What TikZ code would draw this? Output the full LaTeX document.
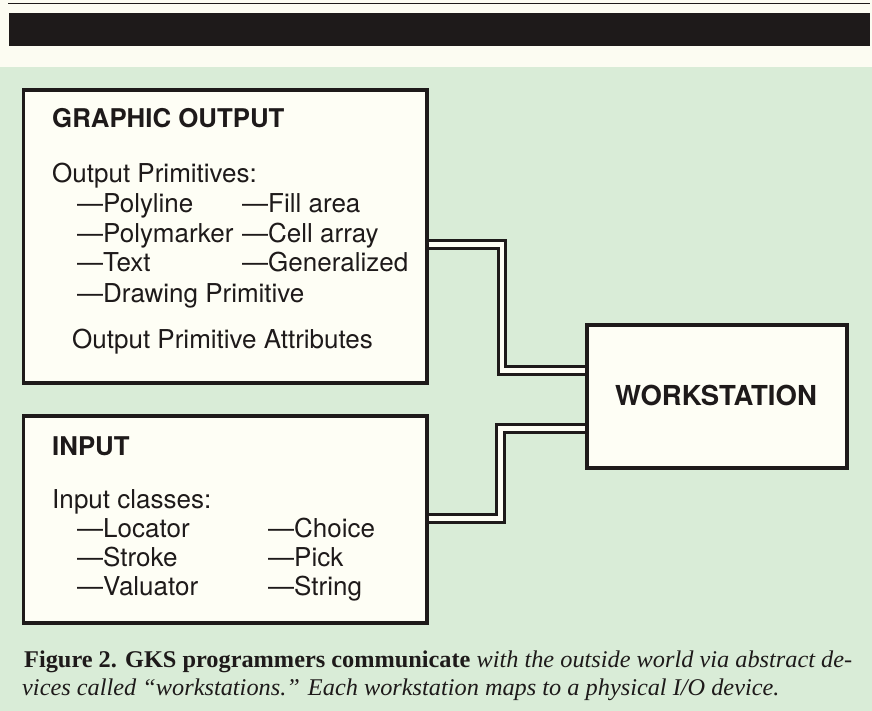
\documentclass[tikz,border=0pt]{standalone}
\usepackage{fontspec}
\usepackage{graphicx}
\newfontfamily\hv{TeX Gyre Heros}
\newfontfamily\capfont{Liberation Serif}
\definecolor{bggreen}{RGB}{217,236,215}
\definecolor{topcream}{RGB}{252,252,242}
\definecolor{cream}{RGB}{254,254,245}
\definecolor{ink}{RGB}{30,26,26}
\newlength\capw
\begin{document}
\settowidth\capw{\fontsize{24}{28}\selectfont\capfont\bfseries Figure 2. GKS programmers communicate \mdseries\itshape with the outside world via abstract de-}
\pgfmathsetmacro\capsx{828pt/\capw}
\begin{tikzpicture}[x=1pt,y=-1pt,
  box/.style={draw=ink, line width=3.2pt, fill=cream, rectangle, inner sep=0pt},
  conn/.style={draw=ink, line width=3pt, double=cream, double distance=4.4pt, line join=miter},
  txt/.style={anchor=base west, inner sep=0pt, text=ink, font=\hv\fontsize{26}{30}\selectfont},
  ttl/.style={txt, font=\hv\bfseries\fontsize{25.8}{30}\selectfont},
  captxt/.style={anchor=base west, inner sep=0pt, text=ink, font=\capfont\fontsize{24}{28}\selectfont}]
\useasboundingbox (0,0) rectangle (872,711);
% background
\fill[topcream] (0,0) rectangle (872,711);
\fill[bggreen] (0,67) rectangle (872,711);
\draw[ink, line width=1.6pt] (8,3.5) -- (870,3.5);
\fill[ink] (9,13) rectangle (870,46);

% boxes
\node[box, minimum width=403.5pt, minimum height=293pt] (go) at (225.25,236.5) {};
\node[box, minimum width=403.5pt, minimum height=207pt] (in) at (225.25,519.5) {};
\node[box, minimum width=260pt, minimum height=143pt] (ws) at (717,396.5) {};

% graphic output texts
\node[ttl] (goT) at (52,128) {GRAPHIC OUTPUT};
\node[txt] (goP) at (52,183) {Output Primitives:};
\node[txt] (g1) at (77,213) {—Polyline};
\node[txt] (g2) at (242,213) {—Fill area};
\node[txt] (g3) at (77,243) {—Polymarker};
\node[txt] (g4) at (242,243) {—Cell array};
\node[txt] (g5) at (77,272) {—Text};
\node[txt] (g6) at (242,272) {—Generalized};
\node[txt] (g7) at (77,302) {—Drawing Primitive};
\node[txt] (goA) at (72,348) {Output Primitive Attributes};

% input texts
\node[ttl] (inT) at (52,455) {INPUT};
\node[txt] (inC) at (52,508) {Input classes:};
\node[txt] (i1) at (77,537.5) {—Locator};
\node[txt] (i2) at (268,537.5) {—Choice};
\node[txt] (i3) at (77,566.5) {—Stroke};
\node[txt] (i4) at (268,566.5) {—Pick};
\node[txt] (i5) at (77,595.5) {—Valuator};
\node[txt] (i6) at (268,595.5) {—String};

% workstation
\node[ttl, anchor=base, font=\hv\bfseries\fontsize{27.5}{30}\selectfont] (wsT) at (716,405) {WORKSTATION};

% connectors
\coordinate (u1) at (502,244.5);
\coordinate (u2) at (502,370.5);
\coordinate (l1) at (500.5,518.5);
\coordinate (l2) at (500.5,428.5);
\draw[conn] (go.east |- u1) -- (u1) -- (u2) -- (ws.west |- u2);
\draw[conn] (in.east |- l1) -- (l1) -- (l2) -- (ws.west |- l2);

% caption
\node[captxt] (cap1) at (24,667) {\scalebox{\capsx}[1]{\bfseries Figure 2. GKS programmers communicate \mdseries\itshape with the outside world via abstract de-}};
\node[captxt] (cap2) at (22,695) {\scalebox{\capsx}[1]{\itshape vices called “workstations.” Each workstation maps to a physical I/O device.}};
\end{tikzpicture}
\end{document}
